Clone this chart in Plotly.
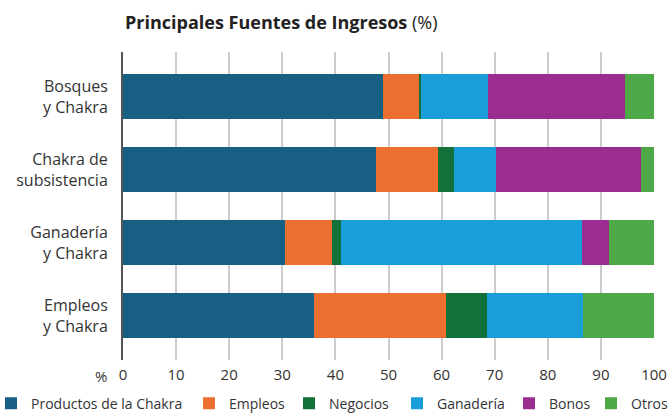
import plotly.graph_objects as go

categories = ["Bosques<br>y Chakra", "Chakra de<br>subsistencia", "Ganadería<br>y Chakra", "Empleos<br>y Chakra"]
series_names = ["Productos de la Chakra", "Empleos", "Negocios", "Ganadería", "Bonos", "Otros"]
productos = [48.9, 47.6, 30.5, 35.9]
empleos = [6.8, 11.7, 8.9, 24.9]
negocios = [0.5, 3.0, 1.6, 7.7]
ganaderia = [12.5, 7.9, 45.5, 18.2]
bonos = [25.9, 27.4, 5.1, 0.0]
otros = [5.4, 2.4, 8.4, 13.3]
x_ticks = [0, 10, 20, 30, 40, 50, 60, 70, 80, 90, 100]

colors = ["#176083", "#EC6F32", "#12703A", "#1A9EDA", "#9B2D91", "#4EA847"]
values = [productos, empleos, negocios, ganaderia, bonos, otros]
legend_square_px = [7, 205, 305, 413, 525, 607]

W, H = 668, 414
ML, MR, MT, MB = 123, 14, 52, 54
PW = W - ML - MR
FONT = "'Open Sans', Lato, sans-serif"

fig = go.Figure()
legend_layouts = {}
for i, (name, vals, col) in enumerate(zip(series_names, values, colors)):
    lg = "legend" if i == 0 else f"legend{i + 1}"
    fig.add_trace(go.Bar(y=categories, x=vals, name=name, orientation="h",
                         marker=dict(color=col, line=dict(width=0)),
                         legend=lg, hoverinfo="x+name"))
    legend_layouts[lg] = dict(
        orientation="h", x=(legend_square_px[i] - 16 - ML) / PW, xanchor="left",
        y=-0.09, yanchor="top", font=dict(size=14, color="#333", family=FONT),
        itemwidth=30, bgcolor="rgba(0,0,0,0)")

fig.update_layout(
    barmode="stack",
    bargap=0.384,
    width=W, height=H,
    margin=dict(l=ML, r=MR, t=MT, b=MB, autoexpand=False),
    paper_bgcolor="white", plot_bgcolor="white",
    font=dict(family=FONT, color="#333", size=15),
    xaxis=dict(range=[0, 100], tickvals=x_ticks, showgrid=True, gridcolor="#cccccc",
               gridwidth=2, zeroline=False, showline=False, ticks="",
               ticklabelstandoff=4, tickfont=dict(size=15, color="#333"), automargin=False),
    yaxis=dict(categoryorder="array", categoryarray=categories, range=[3.61, -0.615],
               showline=True, linecolor="#555", linewidth=2, showgrid=False,
               ticks="", ticklabelstandoff=10, tickfont=dict(size=16, color="#333"),
               automargin=False),
    showlegend=True,
    **legend_layouts,
)

fig.add_annotation(text="<b>Principales Fuentes de Ingresos</b> (%)", xref="paper", yref="paper",
                   x=0, y=1, yshift=30, xanchor="left", yanchor="middle", showarrow=False,
                   font=dict(size=18, color="#222", family=FONT))
fig.add_annotation(text="%", xref="paper", yref="paper", x=0, y=0, xshift=-14, yshift=-16,
                   xanchor="right", yanchor="middle", showarrow=False,
                   font=dict(size=15, color="#333", family=FONT))

fig.write_html("out.html", config={"displayModeBar": False},
               post_script="document.body.style.margin='0';")
